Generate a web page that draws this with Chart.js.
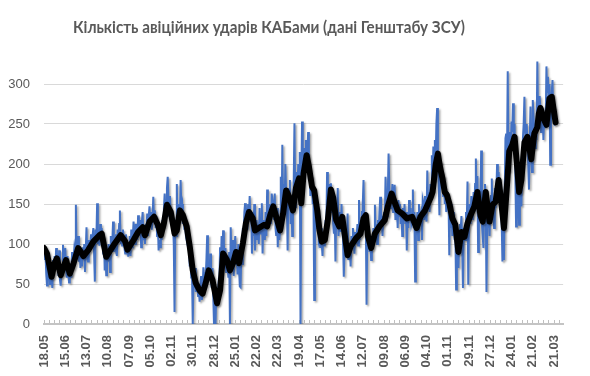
<!DOCTYPE html>
<html lang="uk">
<head>
<meta charset="UTF-8">
<title>Кількість авіційних ударів КАБами</title>
<script src="https://cdn.jsdelivr.net/npm/chart.js"></script>
<style>
  body { margin: 0; background: #fff; }
  .wrap { position: relative; width: 590px; height: 376px; }
  #chart { position: absolute; left: 0; top: 0; }
  .title {
    position: absolute; left: 0; top: 16px; width: 538px;
    text-align: center; white-space: nowrap;
    font: bold 17px Lato, "Liberation Sans", sans-serif;
    line-height: 22px; color: #595959;
  }
  .title span { display: inline-block; transform-origin: center; }
</style>
</head>
<body>
<div class="wrap">
  <canvas id="chart" width="590" height="376"></canvas>
  <div class="title"><span id="titleText">Кількість авіційних ударів КАБами (дані Генштабу ЗСУ)</span></div>
</div>
<script>
// tick labels, one every 28 days starting 18.05
const tickLabels = ['18.05','15.06','13.07','10.08','07.09','05.10','02.11','30.11','28.12',
  '25.01','22.02','22.03','19.04','17.05','14.06','12.07','09.08','06.09','04.10','01.11',
  '29.11','27.12','24.01','21.02','21.03'];

// daily KAB strikes, day 0 = 18.05 (one line per week)
const kabStrikes = [
  97, 80, 88, 62, 48, 70, 55,
  66, 50, 72, 58, 45, 80, 62,
  85, 70, 95, 78, 88, 60, 92,
  55, 48, 70, 62, 99, 75, 80,
  95, 70, 58, 85, 66, 52, 60,
  75, 58, 90, 68, 82, 95, 88,
  149, 92, 85, 110, 78, 95, 70,
  88, 72, 96, 80, 100, 65, 92,
  121, 85, 78, 105, 90, 98, 112,
  95, 110, 120, 88, 53, 118, 105,
  151, 100, 115, 98, 125, 108, 120,
  105, 88, 110, 67, 92, 61, 85,
  78, 100, 92, 65, 110, 95, 102,
  128, 90, 105, 98, 112, 85, 118,
  105, 125, 142, 100, 115, 98, 118,
  108, 95, 88, 112, 90, 100, 84,
  98, 110, 85, 118, 96, 108, 128,
  112, 100, 125, 118, 105, 136, 110,
  122, 130, 96, 128, 140, 105, 112,
  100, 125, 118, 138, 110, 135, 147,
  125, 140, 118, 132, 159, 128, 142,
  120, 135, 110, 128, 92, 105, 96,
  118, 105, 130, 122, 145, 163, 138,
  150, 170, 184, 155, 135, 160, 128,
  140, 118, 125, 100, 15, 130, 110,
  175, 122, 140, 150, 128, 180, 145,
  150, 125, 138, 118, 130, 110, 105,
  115, 95, 100, 72, 88, 58, 65,
  0, 62, 45, 70, 40, 55, 48,
  35, 50, 28, 45, 60, 30, 42,
  71, 48, 65, 58, 80, 111, 62,
  72, 55, 88, 60, 45, 70, 35,
  0, 30, 0, 40, 25, 35, 50,
  45, 96, 70, 110, 85, 117, 100,
  78, 95, 65, 82, 70, 58, 90,
  0, 121, 85, 70, 105, 60, 95,
  110, 75, 88, 62, 100, 70, 47,
  46, 90, 75, 120, 110, 140, 151,
  130, 145, 118, 150, 135, 160, 128,
  140, 88, 125, 110, 150, 92, 118,
  130, 105, 125, 100, 145, 112, 120,
  151, 88, 130, 118, 105, 140, 110,
  168, 120, 145, 130, 150, 125, 163,
  155, 140, 130, 163, 120, 110, 145,
  96, 130, 105, 115, 184, 120, 224,
  150, 175, 140, 200, 165, 155, 92,
  170, 150, 180, 125, 160, 110, 140,
  175, 251, 160, 145, 190, 170, 200,
  185, 215, 0, 175, 253, 190, 210,
  220, 205, 230, 195, 210, 240, 180,
  195, 160, 175, 185, 150, 170, 30,
  155, 140, 130, 120, 145, 105, 110,
  95, 120, 100, 85, 115, 98, 105,
  130, 120, 190, 145, 165, 175, 140,
  176, 150, 160, 125, 113, 140, 78,
  135, 120, 170, 110, 125, 140, 115,
  150, 120, 105, 59, 95, 110, 85,
  90, 138, 80, 95, 100, 72, 110,
  95, 120, 105, 88, 115, 100, 110,
  125, 98, 155, 105, 120, 110, 140,
  150, 180, 125, 140, 130, 24, 120,
  100, 115, 90, 105, 80, 110, 95,
  120, 105, 149, 110, 125, 100, 130,
  115, 140, 159, 120, 135, 110, 130,
  140, 125, 184, 150, 135, 160, 213,
  170, 145, 165, 155, 175, 140, 160,
  174, 130, 145, 150, 120, 155, 135,
  150, 125, 140, 110, 145, 130, 150,
  125, 140, 92, 130, 120, 155, 135,
  145, 125, 130, 168, 120, 140, 53,
  110, 125, 140, 105, 150, 130, 135,
  140, 105, 155, 150, 130, 160, 145,
  128, 192, 150, 165, 140, 175, 160,
  211, 175, 222, 180, 230, 200, 250,
  270, 220, 180, 136, 195, 203, 175,
  190, 160, 185, 150, 170, 140, 165,
  145, 155, 86, 140, 120, 150, 110,
  125, 140, 105, 115, 43, 95, 110,
  70, 105, 125, 118, 135, 95, 45,
  120, 115, 105, 140, 125, 178, 49,
  135, 150, 125, 160, 145, 130, 165,
  140, 175, 207, 160, 185, 90, 150,
  130, 145, 217, 125, 110, 95, 150,
  175, 160, 40, 130, 120, 145, 110,
  140, 160, 182, 130, 150, 120, 170,
  145, 165, 200, 175, 190, 160, 150,
  170, 130, 78, 120, 80, 160, 232,
  238, 200, 316, 210, 190, 240, 220,
  253, 240, 276, 230, 250, 190, 122,
  170, 200, 150, 124, 180, 165, 147,
  205, 232, 250, 284, 240, 230, 250,
  225, 200, 168, 230, 272, 210, 190,
  280, 260, 240, 220, 250, 230, 328,
  260, 275, 285, 270, 240, 255, 270,
  230, 260, 245, 250, 322, 290, 309,
  270, 300, 199, 280, 290, 305, 260,
  270, 250, 251
];

// black trend line (day index, value)
const trendDays = [0, 4, 10, 14, 17, 22, 29, 34, 39, 45, 52, 58, 65, 73, 76, 82, 86, 92,
  101, 107, 110, 118, 124, 130, 133, 139, 145, 150, 154, 158, 162, 167, 172, 175, 179,
  183, 188, 192, 196, 200, 205, 209, 213, 217, 222, 228, 232, 236, 241, 245, 249, 253,
  257, 262, 266, 270, 275, 278, 283, 290, 294, 298, 302, 306, 311, 315, 319, 323, 328,
  332, 336, 339, 342, 346, 349, 353, 356, 360, 363, 366, 370, 374, 378, 381, 385, 389,
  393, 396, 400, 404, 411, 417, 421, 424, 427, 431, 436, 442, 449, 453, 458, 461, 466,
  472, 478, 485, 491, 496, 502, 509, 512, 516, 519, 522, 525, 528, 531, 534, 538, 542,
  546, 550, 554, 558, 562, 567, 571, 575, 578, 582, 587, 591, 595, 599, 602, 606, 610,
  613, 617, 620, 623, 626, 629, 633, 637, 642, 646, 650, 652, 654, 659, 662, 666, 669, 674];
const trendValues = [95, 88, 59, 76, 82, 61, 80, 63, 76, 95, 85, 92, 103, 111, 113, 84, 90, 99,
  111, 103, 93, 105, 115, 121, 111, 128, 134, 124, 111, 126, 149, 140, 113, 117, 142,
  136, 122, 97, 67, 51, 42, 38, 51, 67, 55, 26, 42, 88, 80, 67, 76, 90,
  76, 101, 126, 140, 132, 117, 120, 124, 122, 136, 147, 134, 117, 138, 167, 159, 142,
  170, 182, 151, 188, 211, 197, 172, 167, 142, 117, 103, 105, 130, 168, 158, 130, 122,
  134, 113, 86, 97, 107, 113, 132, 136, 109, 95, 113, 122, 130, 147, 163, 155, 142,
  138, 132, 134, 120, 134, 142, 157, 165, 199, 213, 195, 182, 165, 161, 151, 132, 124,
  90, 115, 109, 126, 136, 147, 165, 136, 128, 165, 128, 149, 153, 180, 157, 120, 173,
  216, 224, 234, 201, 165, 180, 227, 234, 206, 238, 246, 263, 270, 255, 249, 282, 284, 252];

const titleText = document.getElementById('titleText');
titleText.style.transform = 'scaleX(' + (392 / titleText.offsetWidth) + ')';

// soft drop shadow under both lines, like the office-style chart
const lineShadow = {
  id: 'lineShadow',
  beforeDatasetDraw(chart) {
    const c = chart.ctx;
    c.save();
    c.shadowColor = 'rgba(0, 0, 0, 0.35)';
    c.shadowBlur = 2;
    c.shadowOffsetX = 1.5;
    c.shadowOffsetY = 1.5;
  },
  afterDatasetDraw(chart) {
    chart.ctx.restore();
  }
};

const ctx = document.getElementById('chart').getContext('2d');
new Chart(ctx, {
  type: 'line',
  data: {
    datasets: [
      {
        label: 'Тренд',
        data: trendValues.map((v, i) => ({ x: trendDays[i], y: v })),
        borderColor: '#000000',
        borderWidth: 6,
        borderJoinStyle: 'round',
        borderCapStyle: 'round',
        pointRadius: 0,
        order: 0
      },
      {
        label: 'Удари КАБами',
        data: kabStrikes.map((v, i) => ({ x: i, y: v })),
        borderColor: '#4472C4',
        borderWidth: 2,
        pointRadius: 0,
        order: 1
      }
    ]
  },
  plugins: [lineShadow],
  options: {
    responsive: false,
    animation: false,
    layout: { padding: { top: 56, right: 8, left: 0, bottom: 0 } },
    plugins: { legend: { display: false }, tooltip: { enabled: false } },
    scales: {
      x: {
        type: 'linear',
        min: 0,
        max: 684,
        afterFit: (s) => { s.height = 52; },
        grid: { drawOnChartArea: false, drawTicks: true, tickLength: -4, color: '#bfbfbf' },
        border: { color: '#c4c4c4', width: 2 },
        ticks: {
          stepSize: 7,
          autoSkip: false,
          includeBounds: false,
          minRotation: 90,
          maxRotation: 90,
          padding: 15,
          color: '#595959',
          font: { family: 'Liberation Sans', size: 13, weight: 'bold' },
          callback: (v) => (v % 28 === 0 ? tickLabels[v / 28] : '')
        }
      },
      y: {
        min: 0,
        max: 335,
        afterFit: (s) => { s.width = 44; },
        grid: { color: '#d9d9d9', drawTicks: false },
        border: { display: false },
        ticks: {
          stepSize: 50,
          includeBounds: false,
          padding: 14,
          color: '#595959',
          font: { family: 'Liberation Sans', size: 13 }
        }
      }
    }
  }
});
</script>
</body>
</html>
